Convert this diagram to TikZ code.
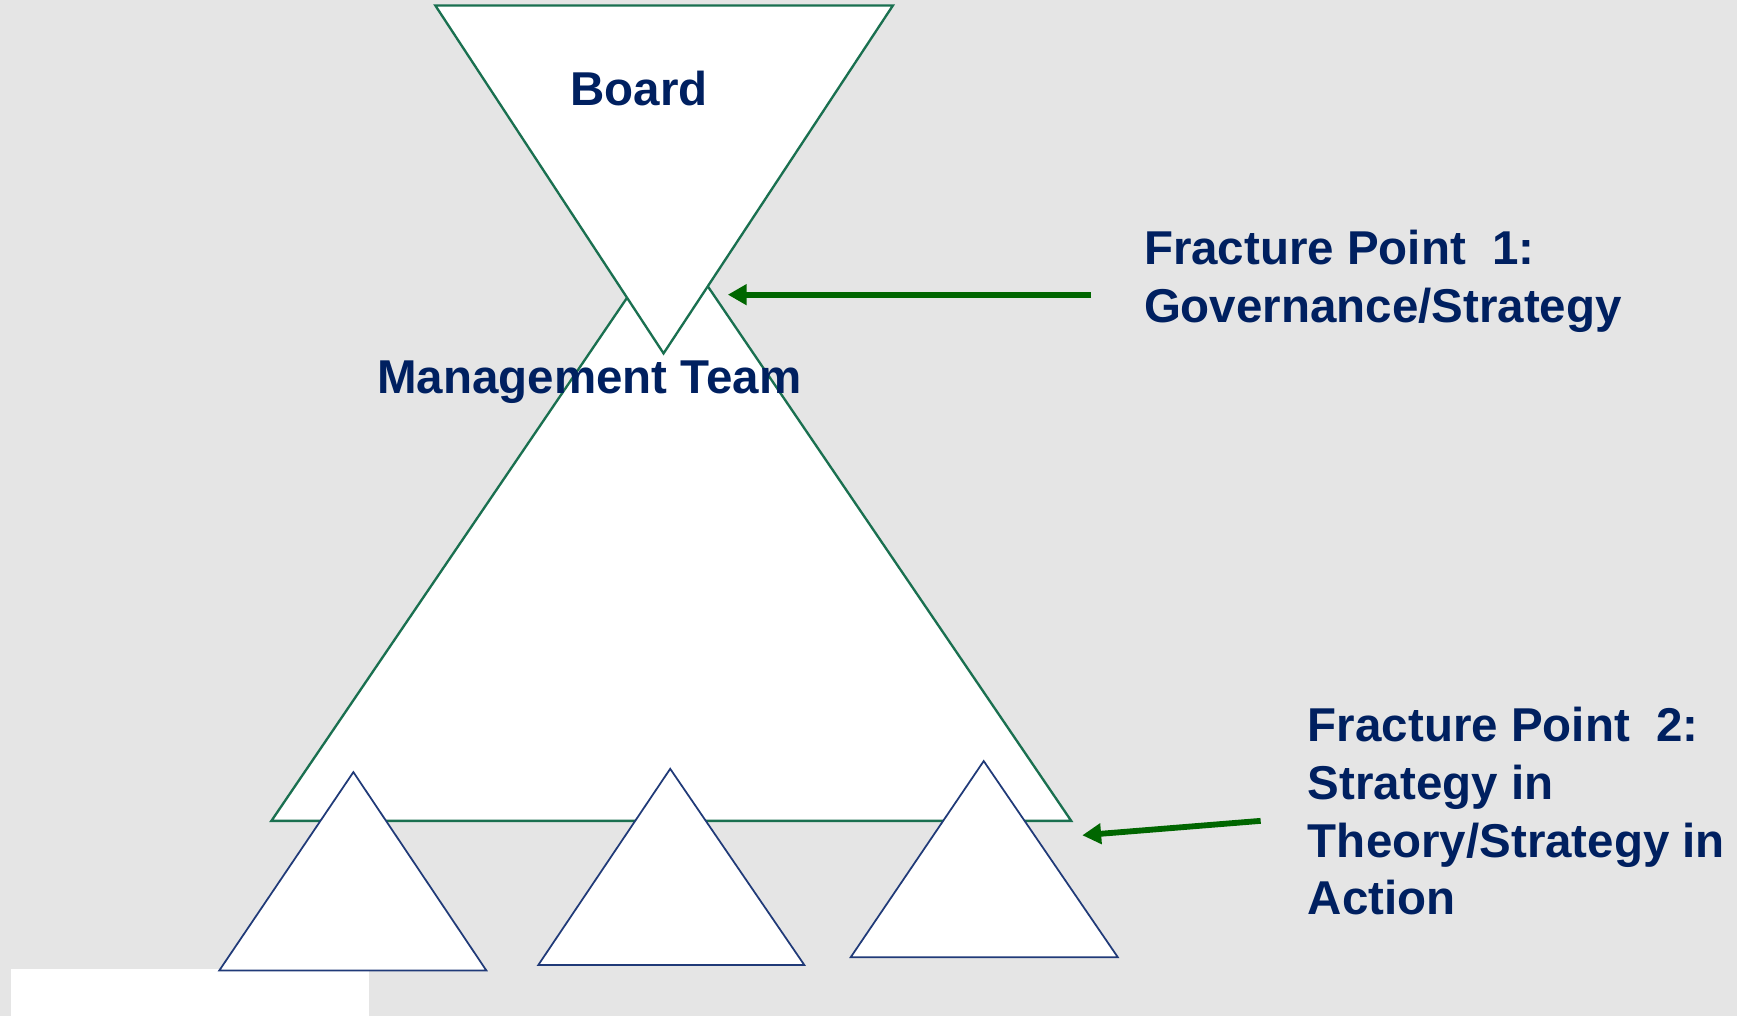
\documentclass[tikz,border=0pt]{standalone}
\usepackage{fontspec}
\setmainfont{Liberation Sans}
\usetikzlibrary{arrows.meta}

\definecolor{slidegray}{HTML}{E5E5E5}
\definecolor{edgegreen}{HTML}{1A7050}
\definecolor{arrowgreen}{HTML}{006600}
\definecolor{titlenavy}{HTML}{002060}
\definecolor{teamnavy}{HTML}{203A78}

\tikzset{
 labeltext/.style={font=\fontsize{12.2}{14.8}\selectfont\bfseries, text=titlenavy, inner sep=0pt},
 bigtri/.style={draw=edgegreen, fill=white, line width=0.6pt},
 teamtri/.style={draw=teamnavy, fill=white, line width=0.45pt},
 fracture/.style={draw=arrowgreen, line width=1.5pt, -{Triangle[length=1.7mm,width=1.8mm]}}
}

\begin{document}
\begin{tikzpicture}[x=0.1mm, y=-0.1mm]
 \fill[slidegray] (0,0) rectangle (1568,917);
 \useasboundingbox (0,0) rectangle (1568,917);
 \fill[white] (10,875) rectangle (333,917);

 % management team, then board on top
 \draw[bigtri] (245,741)--(606,210)--(967,741)--cycle;
 \draw[bigtri] (393,5)--(806,5)--(599,319)--cycle;

 % the three teams
 \draw[teamtri] (198,876)--(319,697)--(439,876)--cycle;
 \draw[teamtri] (486,871)--(605,694)--(726,871)--cycle;
 \draw[teamtri] (768,864)--(888,687)--(1009,864)--cycle;

 \node[labeltext, anchor=base] (board) at (577,95) {Board};
 \node[labeltext, anchor=base west] (mgmt) at (340,355) {Management Team};
 \node[labeltext, anchor=north west, align=left] (fp1) at (1032,207)
  {Fracture Point\ \ 1:\\Governance/Strategy};
 \node[labeltext, anchor=north west, align=left] (fp2) at (1180,638)
  {Fracture Point\ \ 2:\\Strategy in\\Theory/Strategy in\\Action};

 \coordinate (fp1 tail) at (985,266);
 \coordinate (fp1 head) at (657,266);
 \coordinate (fp2 tail) at (1138,741);
 \coordinate (fp2 head) at (977,754);
 \draw[fracture] (fp1 tail) -- (fp1 head);
 \draw[fracture] (fp2 tail) -- (fp2 head);
\end{tikzpicture}
\end{document}
